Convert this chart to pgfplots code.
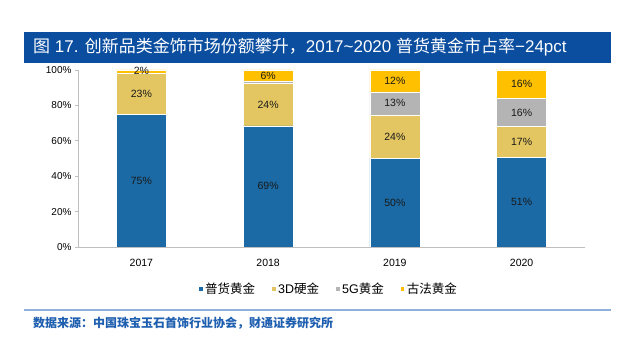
\documentclass[border=0pt]{standalone}
\usepackage{pgfplots}
\pgfplotsset{compat=1.18}
\usepackage{fontspec}
\setmainfont{Liberation Sans}
\newfontfamily\cjk{Noto Sans CJK SC}
\definecolor{cA}{HTML}{1B6AA5}
\definecolor{cB}{HTML}{E3C662}
\definecolor{cC}{HTML}{B4B4B4}
\definecolor{cD}{HTML}{FFC000}
\definecolor{titlebg}{HTML}{0B4EA0}
\definecolor{srcblue}{HTML}{1F5FB0}
\definecolor{sepblue}{HTML}{8FB0DC}
\definecolor{axgray}{HTML}{BFBFBF}
\begin{document}
\begin{tikzpicture}
\fill[white] (0pt,0pt) rectangle (623pt,342pt);
\useasboundingbox (0pt,0pt) rectangle (623pt,342pt);
% title bar
\fill[titlebg] (24pt,279pt) rectangle (611pt,310pt);
\node[anchor=west, text=white, font=\fontsize{17}{20}\selectfont, inner sep=0] at (33pt,294.5pt)
  {{\cjk 图} 17. {\cjk 创新品类金饰市场份额攀升，}2017\textasciitilde 2020 {\cjk 普货黄金市占率}−24pct};
% source
\draw[sepblue, line width=1.2pt] (24pt,32pt) -- (611pt,32pt);
\node[anchor=west, text=srcblue, font=\fontsize{12}{14}\selectfont\cjk\bfseries, inner sep=0] at (33pt,19pt)
  {数据来源：中国珠宝玉石首饰行业协会，财通证券研究所};
\begin{axis}[
  at={(78pt,95pt)}, anchor=south west, scale only axis,
  width=507pt, height=177pt,
  ybar stacked, bar width=50pt,
  xmin=-0.5, xmax=3.5, ymin=0, ymax=100,
  xtick={0,1,2,3}, xticklabels={2017,2018,2019,2020},
  ytick={0,20,40,60,80,100},
  yticklabel={\pgfmathprintnumber{\tick}\%},
  /pgf/number format/assume math mode=true,
  axis lines*=left,
  axis line style={draw=axgray, line width=0.8pt},
  xtick style={draw=none},
  ytick style={draw=axgray, line width=0.8pt},
  tick align=outside, major tick length=3pt,
  xticklabel style={font=\fontsize{10.5}{12}\selectfont, yshift=-6pt},
  yticklabel style={font=\fontsize{10}{12}\selectfont},
  legend style={at={(0.494,-0.237)}, anchor=center, draw=none, fill=none,
    legend columns=4, font=\fontsize{12.5}{14}\selectfont,
    /tikz/every even column/.append style={column sep=14pt},
    inner sep=0pt},
  legend image code/.code={\fill[#1] (0pt,-2.3pt) rectangle (4.6pt,2.3pt);},
  every axis plot/.append style={draw=white, line width=0.4pt},
]
\addplot[fill=cA] coordinates {(0,75) (1,68.5) (2,50) (3,50.7)};
\addplot[fill=cB] coordinates {(0,23) (1,23.8) (2,24.6) (3,17.3)};
\addplot[fill=cC] coordinates {(0,0) (1,1.5) (2,13.1) (3,16)};
\addplot[fill=cD] coordinates {(0,2) (1,6.2) (2,12.3) (3,16)};
\legend{{\cjk 普货黄金},3D{\cjk 硬金},5G{\cjk 黄金},{\cjk 古法黄金}}
\end{axis}
\begin{axis}[
  at={(78pt,95pt)}, anchor=south west, scale only axis,
  width=507pt, height=177pt,
  xmin=-0.5, xmax=3.5, ymin=0, ymax=100,
  hide axis,
]
\addplot[draw=none, mark=none, nodes near coords, point meta=explicit symbolic,
  every node near coord/.style={anchor=center, font=\fontsize{10.5}{12}\selectfont, text=black!90}]
  coordinates {
  (0,37.5)[75\%] (0,86.5)[23\%] (0,99.3)[2\%]
  (1,34.25)[69\%] (1,80.4)[24\%] (1,96.9)[6\%]
  (2,25)[50\%] (2,62.3)[24\%] (2,81.2)[13\%] (2,93.85)[12\%]
  (3,25.35)[51\%] (3,59.35)[17\%] (3,76)[16\%] (3,92)[16\%]
  };
\end{axis}
\end{tikzpicture}
\end{document}
